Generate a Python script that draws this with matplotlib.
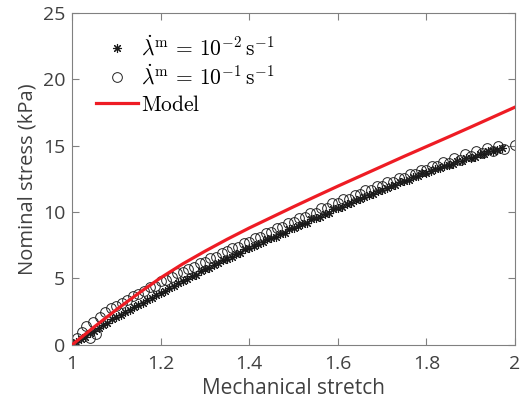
import matplotlib
matplotlib.use("Agg")
import matplotlib.pyplot as plt
from matplotlib.lines import Line2D

# ---- data ----
star_x = [1.00,1.01,1.02,1.03,1.04,1.05,1.06,1.07,1.08,1.09,1.10,1.11,1.12,1.13,1.14,1.15,1.16,1.17,1.18,1.19,
          1.20,1.21,1.22,1.23,1.24,1.25,1.26,1.27,1.28,1.29,1.30,1.31,1.32,1.33,1.34,1.35,1.36,1.37,1.38,1.39,
          1.40,1.41,1.42,1.43,1.44,1.45,1.46,1.47,1.48,1.49,1.50,1.51,1.52,1.53,1.54,1.55,1.56,1.57,1.58,1.59,
          1.60,1.61,1.62,1.63,1.64,1.65,1.66,1.67,1.68,1.69,1.70,1.71,1.72,1.73,1.74,1.75,1.76,1.77,1.78,1.79,
          1.80,1.81,1.82,1.83,1.84,1.85,1.86,1.87,1.88,1.89,1.90,1.91,1.92,1.93,1.94,1.95,1.96,1.97]
star_y = [0.00,0.22,0.45,0.62,0.90,1.08,1.25,1.52,1.66,1.95,2.08,2.25,2.48,2.62,2.88,3.00,3.15,3.40,3.52,3.78,
          3.88,4.05,4.28,4.40,4.65,4.78,4.95,5.18,5.28,5.55,5.68,5.82,6.05,6.15,6.40,6.50,6.62,6.85,6.95,7.20,
          7.28,7.42,7.62,7.72,7.95,8.02,8.15,8.38,8.45,8.70,8.78,8.92,9.12,9.20,9.45,9.52,9.65,9.88,9.95,10.20,
          10.28,10.40,10.62,10.68,10.92,10.98,11.10,11.32,11.38,11.62,11.68,11.80,12.00,12.05,12.28,12.32,12.45,12.65,12.70,12.92,
          12.98,13.08,13.25,13.30,13.50,13.55,13.62,13.82,13.85,14.05,14.08,14.18,14.35,14.38,14.58,14.60,14.68,14.82]

circ_x = [1.000,1.012,1.022,1.032,1.040,1.047,1.055,1.062,1.075,1.088,1.100,1.112,1.125,1.138,1.150,1.162,1.175,1.188,
          1.200,1.212,1.225,1.238,1.250,1.262,1.275,1.288,1.300,1.312,1.325,1.338,1.350,1.362,1.375,1.388,
          1.400,1.412,1.425,1.438,1.450,1.462,1.475,1.488,1.500,1.512,1.525,1.538,1.550,1.562,1.575,1.588,
          1.600,1.612,1.625,1.638,1.650,1.662,1.675,1.688,1.700,1.712,1.725,1.738,1.750,1.762,1.775,1.788,
          1.800,1.812,1.825,1.838,1.850,1.862,1.875,1.888,1.900,1.912,1.925,1.938,1.950,1.962,1.975,2.000]
circ_y = [0.00,0.55,1.00,1.40,0.55,1.75,0.85,2.10,2.45,2.75,2.95,3.15,3.35,3.70,3.85,4.05,4.35,4.45,
          4.80,4.90,5.10,5.40,5.50,5.75,5.85,6.15,6.25,6.55,6.60,6.95,7.05,7.30,7.40,7.70,
          7.75,8.05,8.15,8.40,8.50,8.80,8.85,9.20,9.25,9.55,9.60,9.90,9.95,10.30,10.30,10.65,
          10.70,10.95,11.00,11.30,11.35,11.65,11.65,11.95,12.00,12.25,12.30,12.55,12.55,12.85,12.85,13.15,
          13.15,13.45,13.45,13.75,13.70,14.05,13.95,14.35,14.20,14.60,14.45,14.85,14.60,14.95,14.75,15.05]

model_x = [1.00,1.05,1.10,1.15,1.20,1.25,1.30,1.35,1.40,1.45,1.50,1.55,1.60,1.65,1.70,1.75,1.80,1.85,1.90,1.95,2.00]
model_y = [0.00,1.35,2.65,3.88,5.05,6.10,7.05,7.95,8.80,9.60,10.40,11.18,11.95,12.70,13.45,14.20,14.93,15.66,16.40,17.15,17.90]

x_ticks = [1, 1.2, 1.4, 1.6, 1.8, 2]
x_tick_labels = ["1", "1.2", "1.4", "1.6", "1.8", "2"]
y_ticks = [0, 5, 10, 15, 20, 25]
y_tick_labels = ["0", "5", "10", "15", "20", "25"]

labels = [r"$\dot{\lambda}^{\mathrm{m}} \,=\, 10^{-2}\,\mathrm{s}^{-1}$",
          r"$\dot{\lambda}^{\mathrm{m}} \,=\, 10^{-1}\,\mathrm{s}^{-1}$",
          r"$\mathrm{Model}$"]

# ---- style ----
plt.rcParams["mathtext.fontset"] = "cm"
plt.rcParams["font.family"] = ["Open Sans", "DejaVu Sans"]
txt = "#404040"
spine = "#808080"
red = "#ee1c24"

fig = plt.figure(figsize=(5.26, 4.16), dpi=100)
ax = fig.add_axes([0.137, 0.171, 0.842, 0.798])

asterisk = (8, 2, 0)
ax.plot(star_x, star_y, linestyle="none", marker=asterisk, markersize=6.5,
        markeredgecolor="#1a1a1a", markeredgewidth=0.8, color="#1a1a1a", zorder=2)
ax.plot(circ_x, circ_y, linestyle="none", marker="o", markersize=7,
        markerfacecolor="none", markeredgecolor="#222222", markeredgewidth=0.7, zorder=2)
ax.plot(model_x, model_y, color=red, linewidth=2.3, zorder=3)

ax.set_xlim(1, 2)
ax.set_ylim(0, 25)
ax.set_xticks(x_ticks)
ax.set_xticklabels(x_tick_labels)
ax.set_yticks(y_ticks)
ax.set_yticklabels(y_tick_labels)
ax.tick_params(direction="in", length=5, width=0.8, color=spine, labelcolor=txt,
               labelsize=14, top=True, right=True)
ax.tick_params(axis="x", pad=7)
ax.tick_params(axis="y", pad=5)
for s in ax.spines.values():
    s.set_color(spine)
    s.set_linewidth(0.8)

ax.set_xlabel("Mechanical stretch", fontsize=15, color=txt, labelpad=4)
ax.set_ylabel("Nominal stress (kPa)", fontsize=14.5, color=txt, labelpad=4)

handles = [Line2D([], [], linestyle="none", marker=asterisk, markersize=6.5,
                  markeredgecolor="#1a1a1a", markeredgewidth=0.8),
           Line2D([], [], linestyle="none", marker="o", markersize=7,
                  markerfacecolor="none", markeredgecolor="#222222", markeredgewidth=0.7),
           Line2D([], [], color=red, linewidth=2.3)]
ax.legend(handles, labels, loc="upper left", bbox_to_anchor=(0.02, 0.975), frameon=False,
          fontsize=15.5, handlelength=1.95, handletextpad=0.15, labelspacing=0.22, borderaxespad=0.3)

fig.savefig("out.png", dpi=100)
